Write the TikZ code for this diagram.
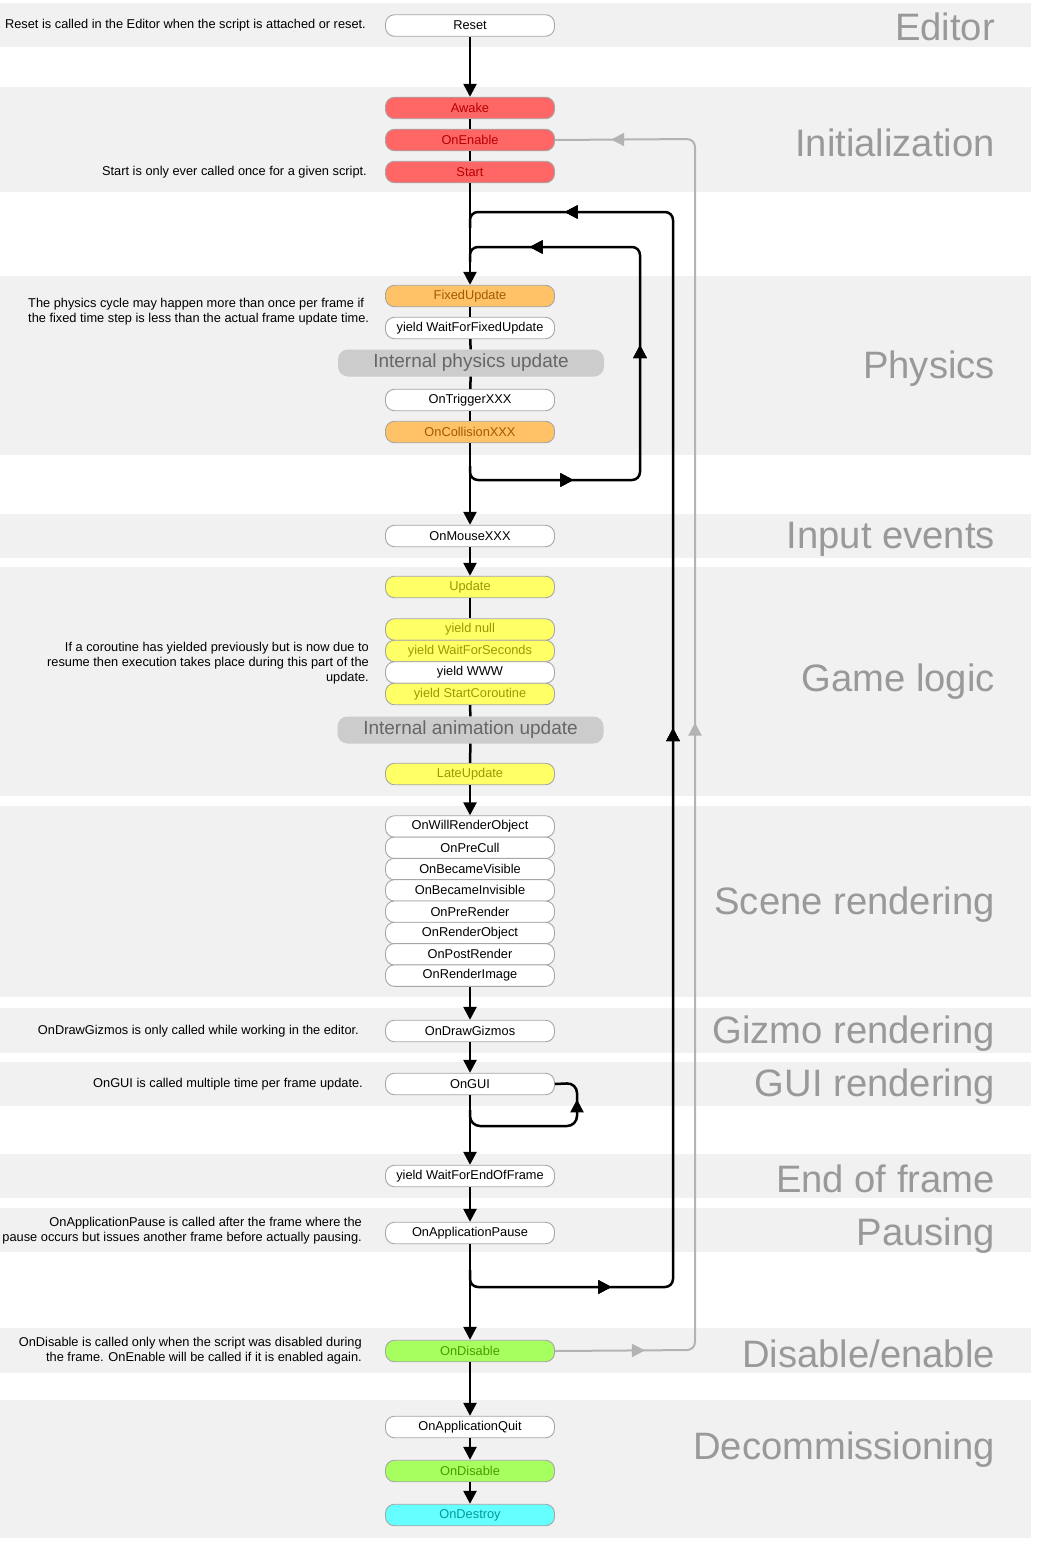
\documentclass[tikz,border=0pt]{standalone}
\usepackage{fontspec}
\setmainfont{Liberation Sans}
\usetikzlibrary{arrows.meta,decorations.markings}
\definecolor{bandc}{HTML}{F1F1F1}
\definecolor{boxline}{HTML}{A6A6A6}
\definecolor{redf}{HTML}{FF6666}
\definecolor{redt}{HTML}{B80000}
\definecolor{orf}{HTML}{FFC266}
\definecolor{ort}{HTML}{A35A00}
\definecolor{yef}{HTML}{FFFF66}
\definecolor{yet}{HTML}{9A9A00}
\definecolor{grf}{HTML}{A6FF5E}
\definecolor{grt}{HTML}{4A9A00}
\definecolor{cyf}{HTML}{66FFFF}
\definecolor{cyt}{HTML}{009A9A}
\definecolor{ibf}{HTML}{CCCCCC}
\definecolor{ibt}{HTML}{666666}
\definecolor{lblc}{HTML}{999999}
\definecolor{loopgray}{HTML}{B3B3B3}
\newcommand{\nodefont}{\fontsize{12.8}{15.2}\selectfont}
\begin{document}
\begin{tikzpicture}[x=1pt,y=-1pt,
  band/.style={fill=bandc,draw=none},
  box/.style={draw=boxline,line width=0.9pt,rounded corners=9pt,minimum width=169pt,minimum height=21.5pt,inner sep=0pt,font=\nodefont,fill=white},
  redbox/.style={box,fill=redf,text=redt},
  orbox/.style={box,fill=orf,text=ort},
  yebox/.style={box,fill=yef,text=yet},
  grbox/.style={box,fill=grf,text=grt},
  cybox/.style={box,fill=cyf,text=cyt},
  ibox/.style={rounded corners=10pt,fill=ibf,text=ibt,minimum width=266pt,minimum height=27pt,inner sep=0pt,font=\fontsize{19}{22}\selectfont},
  flow/.style={line width=2.5pt,draw=black},
  arr/.style={flow,-{Triangle[length=13pt,width=13pt]}},
  lbl/.style={anchor=east,text=lblc,inner sep=0pt,font=\fontsize{38.2}{41}\selectfont},
  note/.style={inner sep=0pt,font=\nodefont},
  mk/.style={postaction={decorate},decoration={markings,mark=at position #1 with {\arrow{Triangle[length=13pt,width=13pt]}}}},
]
\useasboundingbox (0,0) rectangle (1041,1552);
\fill[white] (0,0) rectangle (1041,1552);
% bands
\fill[band] (0,3) rectangle (1031,47);
\fill[band] (0,87) rectangle (1031,192);
\fill[band] (0,276) rectangle (1031,455);
\fill[band] (0,514) rectangle (1031,558);
\fill[band] (0,567) rectangle (1031,796);
\fill[band] (0,806) rectangle (1031,997);
\fill[band] (0,1008) rectangle (1031,1053);
\fill[band] (0,1062) rectangle (1031,1106);
\fill[band] (0,1154) rectangle (1031,1198);
\fill[band] (0,1208) rectangle (1031,1252);
\fill[band] (0,1328) rectangle (1031,1373);
\fill[band] (0,1400) rectangle (1031,1538);
% section labels
\node[lbl] (lEditor) at (995,27) {Editor};
\node[lbl] (lInit) at (995,143) {Initialization};
\node[lbl] (lPhys) at (995,369) {Physics};
\node[lbl] (lInput) at (995,539) {Input events};
\node[lbl] (lGame) at (995,682) {Game logic};
\node[lbl] (lScene) at (995,905) {Scene rendering};
\node[lbl] (lGizmo) at (995,1034) {Gizmo rendering};
\node[lbl] (lGUI) at (995,1087) {GUI rendering};
\node[lbl] (lEOF) at (995,1179) {End of frame};
\node[lbl] (lPause) at (995,1236) {Pausing};
\node[lbl] (lDis) at (995,1354) {Disable/enable};
\node[lbl] (lDec) at (995,1450) {Decommissioning};
% notes
\node[note,anchor=east] (n1) at (366,25) {Reset is called in the Editor when the script is attached or reset.};
\node[note,anchor=east] (n2) at (367,172) {Start is only ever called once for a given script.};
\node[note,anchor=west,align=left] (n3) at (28,312) {The physics cycle may happen more than once per frame if\\the fixed time step is less than the actual frame update time.};
\node[note,anchor=east,align=right] (n4) at (369,663) {If a coroutine has yielded previously but is now due to\hspace{4pt}\\resume then execution takes place during this part of the\hspace{4pt}\\update.};
\node[note,anchor=east] (n5) at (359,1031) {OnDrawGizmos is only called while working in the editor.};
\node[note,anchor=east] (n6) at (363,1084) {OnGUI is called multiple time per frame update.};
\node[note,anchor=east,align=right] (n7) at (362,1231) {OnApplicationPause is called after the frame where the\hspace{2pt}\\pause occurs but issues another frame before actually pausing.};
\node[note,anchor=east,align=right] (n8) at (362,1351) {OnDisable is called only when the script was disabled during\hspace{5pt}\\the frame. OnEnable will be called if it is enabled again.};
% loop coordinates
\coordinate (pa) at (470,466);
\coordinate (pb) at (640,480);
\coordinate (pc) at (640,247);
\coordinate (pd) at (470,262);
\coordinate (oa) at (470,1270);
\coordinate (ob) at (673,1287);
\coordinate (oc) at (673,212);
\coordinate (od) at (470,228);
\coordinate (ga) at (470,1110);
\coordinate (gb) at (577,1126);
\coordinate (gc) at (577,1083);
\coordinate (qa) at (695,1350);
\coordinate (qb) at (695,139);
% loops
\draw[flow,rounded corners=8pt,mk=114pt,mk=312pt,mk=517pt] (pa) |- (pb) -- (pc) -| (pd);
\draw[flow,rounded corners=8pt,mk=155pt,mk=772pt,mk=1393pt] (oa) |- (ob) -- (oc) -| (od);
% nodes
\node[box] (reset) at (470,25.5) {Reset};
\node[redbox] (awake) at (470,108) {Awake};
\node[redbox] (onenable) at (470,140) {OnEnable};
\node[redbox] (start) at (470,172) {Start};
\node[orbox] (fixed) at (470,296) {FixedUpdate};
\node[box] (wffu) at (470,328) {yield WaitForFixedUpdate};
\node[ibox] (ipu) at (471,363) {Internal physics update};
\node[box] (trig) at (470,400) {OnTriggerXXX};
\node[orbox] (coll) at (470,432) {OnCollisionXXX};
\node[box] (mouse) at (470,536) {OnMouseXXX};
\node[yebox] (update) at (470,587) {Update};
\node[yebox] (ynull) at (470,629.5) {yield null};
\node[yebox] (ywfs) at (470,651) {yield WaitForSeconds};
\node[box] (ywww) at (470,672.5) {yield WWW};
\node[yebox] (ysc) at (470,694) {yield StartCoroutine};
\node[ibox] (iau) at (470.5,730) {Internal animation update};
\node[yebox] (late) at (470,774) {LateUpdate};
\node[box] (willr) at (470,826.5) {OnWillRenderObject};
\node[box] (precull) at (470,847.8) {OnPreCull};
\node[box] (bvis) at (470,869.1) {OnBecameVisible};
\node[box] (binv) at (470,890.4) {OnBecameInvisible};
\node[box] (prer) at (470,911.7) {OnPreRender};
\node[box] (rendo) at (470,933) {OnRenderObject};
\node[box] (postr) at (470,954.3) {OnPostRender};
\node[box] (rimg) at (470,975.6) {OnRenderImage};
\node[box] (gizmos) at (470,1031) {OnDrawGizmos};
\node[box] (gui) at (470,1084) {OnGUI};
\node[box] (eof) at (470,1176) {yield WaitForEndOfFrame};
\node[box] (pause) at (470,1233) {OnApplicationPause};
\node[grbox] (disable) at (470,1351) {OnDisable};
\node[box] (quit) at (470,1427) {OnApplicationQuit};
\node[grbox] (disable2) at (470,1471) {OnDisable};
\node[cybox] (destroy) at (470,1515) {OnDestroy};
% gray enable loop
\draw[draw=loopgray,line width=2pt,rounded corners=8pt,
  postaction={decorate},decoration={markings,
   mark=at position 90pt with {\arrow[loopgray]{Triangle[length=13pt,width=13pt]}},
   mark=at position 764pt with {\arrow[loopgray]{Triangle[length=13pt,width=13pt]}},
   mark=at position 1428pt with {\arrow[loopgray]{Triangle[length=13pt,width=13pt]}}}]
  (disable.east) -- (qa) -- (qb) -- (onenable.east);
% GUI loop
\draw[flow,rounded corners=10pt,mk=141pt] (ga) |- (gb) -- (gc) -- (gui.east);
% main flow
\draw[arr] (reset) -- (awake);
\draw[flow] (awake) -- (onenable);
\draw[flow] (onenable) -- (start);
\draw[arr] (start) -- (fixed);
\draw[flow] (fixed) -- (wffu);
\draw[flow] (wffu) -- (ipu);
\draw[flow] (ipu) -- (trig);
\draw[flow] (trig) -- (coll);
\draw[arr] (coll) -- (mouse);
\draw[arr] (mouse) -- (update);
\draw[flow] (update) -- (ynull);
\draw[flow] (ysc) -- (iau);
\draw[flow] (iau) -- (late);
\draw[arr] (late) -- (willr);
\draw[arr] (rimg) -- (gizmos);
\draw[arr] (gizmos) -- (gui);
\draw[arr] (gui) -- (eof);
\draw[arr] (eof) -- (pause);
\draw[arr] (pause) -- (disable);
\draw[arr] (disable) -- (quit);
\draw[arr] (quit) -- (disable2);
\draw[arr] (disable2) -- (destroy);
\end{tikzpicture}
\end{document}
